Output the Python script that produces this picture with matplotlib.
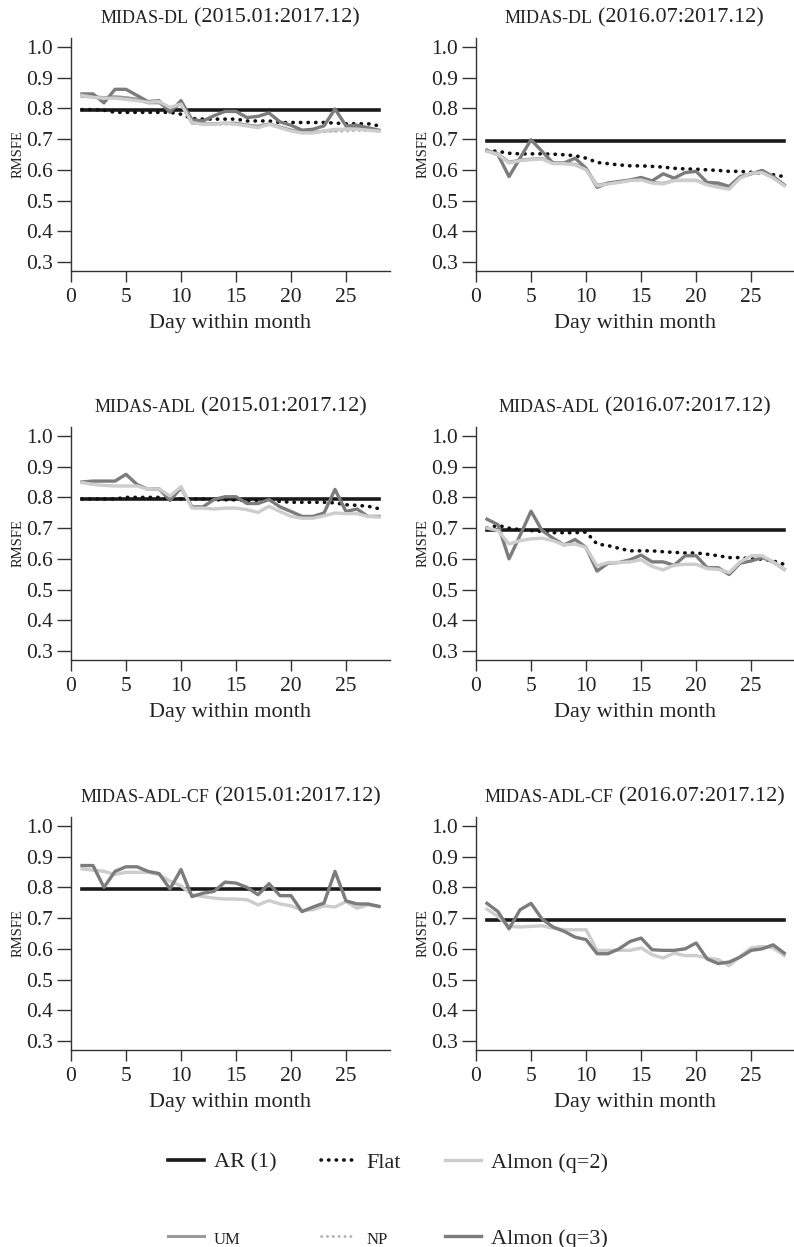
import numpy as np
import matplotlib
matplotlib.use("Agg")
import matplotlib.pyplot as plt
from matplotlib.offsetbox import TextArea, HPacker, AnchoredOffsetbox

plt.rcParams['font.family'] = ['Liberation Serif', 'DejaVu Serif']

days = np.arange(1, 29)

# AR(1) benchmark per sample
ar_full = 0.795
ar_sub = 0.695

# ---- MIDAS-DL 2015.01:2017.12
dl1_flat = [0.796, 0.796, 0.794, 0.787, 0.787, 0.787, 0.787, 0.787, 0.787, 0.781, 0.767, 0.765, 0.765, 0.765,
            0.765, 0.759, 0.759, 0.759, 0.754, 0.754, 0.754, 0.754, 0.754, 0.752, 0.750, 0.750, 0.750, 0.743]
dl1_q2 = [0.842, 0.836, 0.833, 0.833, 0.829, 0.825, 0.820, 0.822, 0.803, 0.814, 0.754, 0.748, 0.748, 0.752,
          0.748, 0.743, 0.737, 0.748, 0.737, 0.726, 0.720, 0.720, 0.726, 0.732, 0.732, 0.732, 0.729, 0.726]
dl1_um = [0.840, 0.838, 0.835, 0.838, 0.835, 0.830, 0.818, 0.818, 0.795, 0.815, 0.752, 0.750, 0.750, 0.752,
          0.752, 0.746, 0.742, 0.750, 0.740, 0.730, 0.722, 0.722, 0.726, 0.730, 0.732, 0.735, 0.731, 0.727]
dl1_np = [0.838, 0.835, 0.832, 0.835, 0.835, 0.830, 0.820, 0.820, 0.795, 0.810, 0.755, 0.748, 0.747, 0.748,
          0.748, 0.745, 0.740, 0.746, 0.738, 0.728, 0.723, 0.723, 0.724, 0.725, 0.726, 0.728, 0.727, 0.725]
dl1_q3 = [0.847, 0.847, 0.818, 0.862, 0.862, 0.842, 0.822, 0.825, 0.787, 0.825, 0.763, 0.759, 0.776, 0.790,
          0.790, 0.770, 0.774, 0.785, 0.756, 0.745, 0.729, 0.732, 0.743, 0.798, 0.743, 0.745, 0.737, 0.729]

# ---- MIDAS-DL 2016.07:2017.12
dl2_flat = [0.663, 0.660, 0.654, 0.652, 0.652, 0.652, 0.651, 0.649, 0.646, 0.638, 0.624, 0.620, 0.616, 0.613,
            0.613, 0.611, 0.609, 0.605, 0.603, 0.602, 0.600, 0.598, 0.595, 0.595, 0.592, 0.589, 0.584, 0.578]
dl2_q2 = [0.660, 0.650, 0.622, 0.630, 0.633, 0.635, 0.620, 0.620, 0.616, 0.600, 0.548, 0.554, 0.559, 0.565,
          0.567, 0.557, 0.554, 0.565, 0.565, 0.565, 0.551, 0.543, 0.537, 0.573, 0.589, 0.591, 0.573, 0.548]
dl2_um = [0.662, 0.652, 0.625, 0.632, 0.635, 0.637, 0.622, 0.621, 0.618, 0.602, 0.550, 0.556, 0.560, 0.566,
          0.569, 0.559, 0.556, 0.566, 0.566, 0.566, 0.553, 0.546, 0.540, 0.575, 0.588, 0.592, 0.575, 0.550]
dl2_np = [0.661, 0.651, 0.624, 0.631, 0.634, 0.636, 0.621, 0.620, 0.617, 0.601, 0.549, 0.555, 0.560, 0.565,
          0.568, 0.558, 0.555, 0.565, 0.565, 0.565, 0.552, 0.545, 0.539, 0.574, 0.588, 0.591, 0.574, 0.549]
dl2_q3 = [0.663, 0.649, 0.578, 0.638, 0.698, 0.660, 0.622, 0.622, 0.638, 0.605, 0.543, 0.557, 0.562, 0.567,
          0.575, 0.564, 0.587, 0.573, 0.591, 0.595, 0.559, 0.557, 0.546, 0.578, 0.587, 0.598, 0.578, 0.551]

# ---- MIDAS-ADL 2015.01:2017.12
adl1_flat = [0.795, 0.795, 0.795, 0.795, 0.800, 0.800, 0.800, 0.800, 0.796, 0.795, 0.795, 0.795, 0.792, 0.792,
             0.792, 0.790, 0.790, 0.790, 0.787, 0.784, 0.784, 0.784, 0.784, 0.782, 0.776, 0.774, 0.771, 0.763]
adl1_q2 = [0.848, 0.842, 0.839, 0.837, 0.837, 0.837, 0.826, 0.828, 0.804, 0.835, 0.765, 0.765, 0.762, 0.765,
           0.765, 0.760, 0.751, 0.771, 0.754, 0.738, 0.732, 0.732, 0.740, 0.749, 0.747, 0.747, 0.738, 0.736]
adl1_q3 = [0.850, 0.853, 0.853, 0.853, 0.875, 0.842, 0.826, 0.828, 0.790, 0.831, 0.769, 0.769, 0.793, 0.802,
           0.802, 0.780, 0.780, 0.793, 0.769, 0.754, 0.738, 0.738, 0.749, 0.826, 0.754, 0.762, 0.738, 0.738]

# ---- MIDAS-ADL 2016.07:2017.12
adl2_flat = [0.700, 0.709, 0.700, 0.695, 0.692, 0.689, 0.685, 0.685, 0.685, 0.687, 0.648, 0.643, 0.634, 0.626,
             0.626, 0.626, 0.623, 0.621, 0.619, 0.619, 0.615, 0.610, 0.604, 0.604, 0.600, 0.599, 0.593, 0.582]
adl2_q2 = [0.700, 0.692, 0.648, 0.659, 0.665, 0.667, 0.659, 0.645, 0.648, 0.637, 0.577, 0.588, 0.588, 0.590,
           0.597, 0.575, 0.564, 0.579, 0.582, 0.582, 0.568, 0.566, 0.555, 0.590, 0.610, 0.610, 0.590, 0.566]
adl2_q3 = [0.729, 0.711, 0.600, 0.676, 0.755, 0.692, 0.667, 0.645, 0.663, 0.637, 0.560, 0.586, 0.588, 0.597,
           0.612, 0.590, 0.590, 0.579, 0.610, 0.610, 0.571, 0.571, 0.549, 0.586, 0.593, 0.604, 0.590, 0.566]

# ---- MIDAS-ADL-CF 2015.01:2017.12
cf1_q2 = [0.860, 0.856, 0.852, 0.842, 0.849, 0.849, 0.849, 0.842, 0.820, 0.805, 0.776, 0.770, 0.765, 0.762,
          0.762, 0.760, 0.743, 0.757, 0.746, 0.740, 0.725, 0.727, 0.740, 0.736, 0.754, 0.732, 0.743, 0.738]
cf1_q3 = [0.871, 0.871, 0.800, 0.852, 0.867, 0.867, 0.852, 0.845, 0.795, 0.858, 0.770, 0.781, 0.787, 0.817,
          0.814, 0.800, 0.776, 0.812, 0.773, 0.773, 0.721, 0.736, 0.749, 0.852, 0.756, 0.746, 0.746, 0.738]

# ---- MIDAS-ADL-CF 2016.07:2017.12
cf2_q2 = [0.729, 0.705, 0.673, 0.671, 0.673, 0.675, 0.667, 0.662, 0.662, 0.662, 0.595, 0.595, 0.595, 0.595,
          0.603, 0.581, 0.570, 0.586, 0.578, 0.578, 0.570, 0.565, 0.545, 0.576, 0.603, 0.608, 0.603, 0.578]
cf2_q3 = [0.748, 0.721, 0.665, 0.727, 0.748, 0.697, 0.671, 0.657, 0.638, 0.630, 0.584, 0.584, 0.600, 0.624,
          0.635, 0.597, 0.595, 0.595, 0.600, 0.619, 0.567, 0.552, 0.557, 0.573, 0.595, 0.600, 0.613, 0.586]

models = ["MIDAS-DL", "MIDAS-ADL", "MIDAS-ADL-CF"]
samples = ["(2015.01:2017.12)", "(2016.07:2017.12)"]
ar_vals = [ar_full, ar_sub]

panels = [
    [dict(Flat=dl1_flat, NP=dl1_np, UM=dl1_um, q2=dl1_q2, q3=dl1_q3),
     dict(Flat=dl2_flat, NP=dl2_np, UM=dl2_um, q2=dl2_q2, q3=dl2_q3)],
    [dict(Flat=adl1_flat, q2=adl1_q2, q3=adl1_q3),
     dict(Flat=adl2_flat, q2=adl2_q2, q3=adl2_q3)],
    [dict(q2=cf1_q2, q3=cf1_q3),
     dict(q2=cf2_q2, q3=cf2_q3)],
]

styles = {
    "Flat": dict(color="#111111", lw=2.6, ls=(0, (0.1, 2.0)), dash_capstyle="round", label="Flat", zorder=3),
    "NP": dict(color="#b0b0b0", lw=2.0, ls=(0, (0.1, 2.0)), dash_capstyle="round", label="NP", zorder=4),
    "UM": dict(color="#9a9a9a", lw=2.2, ls="-", label="UM", zorder=4),
    "q2": dict(color="#cdcdcd", lw=2.4, ls="-", label="Almon (q=2)", zorder=6),
    "q3": dict(color="#7c7c7c", lw=2.4, ls="-", label="Almon (q=3)", zorder=5),
}

W, H = 794, 1247
fig = plt.figure(figsize=(W / 100, H / 100), dpi=100)

col_x = [(71, 390, 29.0), (476, 793, 28.8)]
row_top = [38, 427, 817]
ax_h = 233

for r in range(3):
    for c in range(2):
        x0, x1, xmax = col_x[c]
        top = row_top[r]
        ax = fig.add_axes([x0 / W, 1 - (top + ax_h) / H, (x1 - x0) / W, ax_h / H])
        ax.plot(days, [ar_vals[c]] * len(days), color="#1a1a1a", lw=2.6, zorder=2, label="AR (1)")
        for key, vals in panels[r][c].items():
            st = dict(styles[key])
            if r == 2 and key == "q3":
                st["zorder"] = 7
            ax.plot(days, vals, **st)
        ax.set_xlim(0, xmax)
        ax.set_ylim(0.2707, 1.029)
        ax.set_xticks([0, 5, 10, 15, 20, 25])
        ax.set_yticks(np.round(np.arange(0.3, 1.01, 0.1), 1))
        ax.set_yticklabels([f"{v:.1f}" for v in np.arange(0.3, 1.01, 0.1)])
        for s in ["top", "right"]:
            ax.spines[s].set_visible(False)
        for s in ["left", "bottom"]:
            ax.spines[s].set_color("#333333")
            ax.spines[s].set_linewidth(1.0)
        ax.tick_params(axis="y", direction="out", length=10, width=1.0, pad=3, labelsize=15.5, colors="#333333", labelcolor="#222222")
        ax.tick_params(axis="x", direction="out", length=8, width=1.0, pad=4, labelsize=15.5, colors="#333333", labelcolor="#222222")
        ax.set_xlabel("Day within month", fontsize=16, color="#222222", labelpad=5)
        ax.set_ylabel("RMSFE", fontsize=10.5, color="#222222", labelpad=1)
        # small-caps model name + sample period
        box = HPacker(children=[TextArea(models[r], textprops=dict(fontsize=13, color="#222222")),
                                TextArea(samples[c], textprops=dict(fontsize=16, color="#222222"))],
                      align="baseline", pad=0, sep=4)
        ab = AnchoredOffsetbox(loc="lower center", child=box, pad=0, borderpad=0, frameon=False,
                               bbox_to_anchor=(0.5, 1.045), bbox_transform=ax.transAxes)
        ax.add_artist(ab)
        if r == 0 and c == 0:
            handle_ax = ax

h, l = handle_ax.get_legend_handles_labels()
hd = dict(zip(l, h))
order = ["AR (1)", "UM", "Flat", "NP", "Almon (q=2)", "Almon (q=3)"]
leg = fig.legend([hd[k] for k in order], order, loc="upper left", bbox_to_anchor=(148 / W, 1 - 1132 / H),
                 ncol=3, frameon=False, fontsize=16, handlelength=1.6, handletextpad=0.45,
                 labelspacing=2.5, columnspacing=2.0)
for t in leg.get_texts():
    if t.get_text() in ("UM", "NP"):
        t.set_fontsize(12)
    t.set_color("#222222")

fig.savefig("out.png", dpi=100)
